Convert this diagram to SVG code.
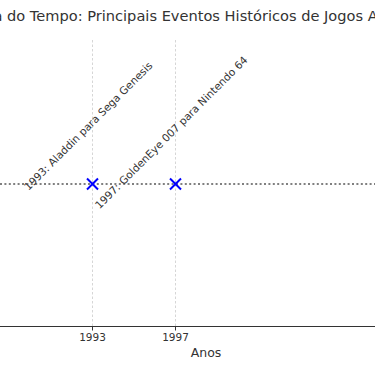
<svg xmlns="http://www.w3.org/2000/svg" width="375" height="366" viewBox="0 0 375 366">
<style>
text{font-family:"DejaVu Sans","Liberation Sans",sans-serif;fill:#333}
.grid{stroke:#cccccc;stroke-width:0.8;stroke-dasharray:2.5 2}
.mk{stroke:#0000ff;stroke-width:2;fill:none}
.tick{font-size:10.5px;text-anchor:middle}
.ann{font-size:10.6px}
</style>
<rect width="375" height="366" fill="#ffffff"/>
<text x="-6.6" y="20.5" font-size="14.6">a do Tempo: Principais Eventos Históricos de Jogos A</text>
<g id="grid">
<line class="grid" x1="92.5" y1="40" x2="92.5" y2="326"/>
<line class="grid" x1="175.5" y1="40" x2="175.5" y2="326"/>
</g>
<g id="connectors">
<line x1="0" y1="184" x2="375" y2="184" stroke="#808080" stroke-width="2" stroke-dasharray="2 2.4"/>
</g>
<g id="axis">
<line x1="0" y1="326.5" x2="375" y2="326.5" stroke="#333" stroke-width="1.2"/>
<line x1="92.5" y1="326.5" x2="92.5" y2="330.5" stroke="#333" stroke-width="1"/>
<line x1="175.5" y1="326.5" x2="175.5" y2="330.5" stroke="#333" stroke-width="1"/>
<text class="tick" x="92.5" y="340.5">1993</text>
<text class="tick" x="175.5" y="340.5">1997</text>
<text x="206" y="356.5" font-size="12.5" text-anchor="middle">Anos</text>
</g>
<g id="event-1993">
<path class="mk" d="M87,178.5 L98,189.5 M98,178.5 L87,189.5"/>
<text class="ann" transform="translate(28.5,191) rotate(-45)">1993: Aladdin para Sega Genesis</text>
</g>
<g id="event-1997">
<path class="mk" d="M170,178.5 L181,189.5 M181,178.5 L170,189.5"/>
<text class="ann" transform="translate(99.5,209.5) rotate(-45)">1997: GoldenEye 007 para Nintendo 64</text>
</g>
</svg>
